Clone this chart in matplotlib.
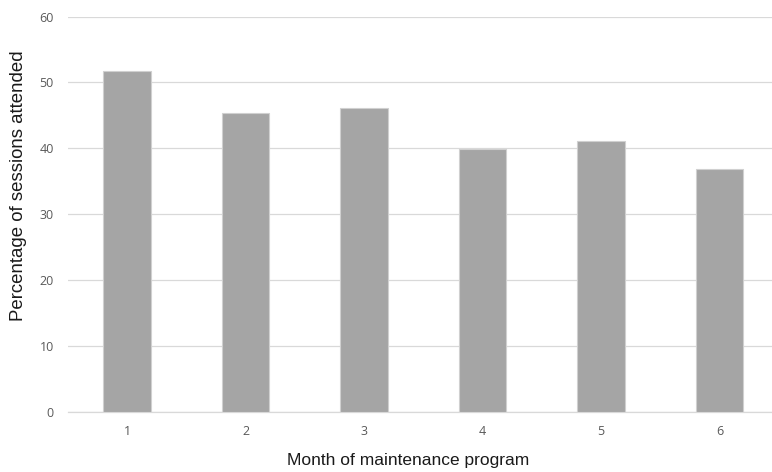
import matplotlib
matplotlib.use("Agg")
import matplotlib.pyplot as plt

months = ["1", "2", "3", "4", "5", "6"]
attendance = [51.8, 45.3, 46.1, 39.9, 41.1, 36.8]
y_ticks = [0, 10, 20, 30, 40, 50, 60]

fig = plt.figure(figsize=(7.72, 4.72), dpi=100)
ax = fig.add_axes([0.0878, 0.128, 0.921, 0.837])

x = range(len(months))
ax.bar(x, attendance, width=0.4, color="#A5A5A5", edgecolor="#D0D0D0",
       linewidth=0.8, zorder=3)

ax.set_xlim(-0.5, len(months) - 0.5)
ax.set_ylim(0, 60)
ax.set_yticks(y_ticks)
ax.set_xticks(list(x))
ax.set_xticklabels(months)

ax.yaxis.grid(True, color="#D9D9D9", linewidth=0.9, zorder=0)
for side in ["top", "right", "left"]:
    ax.spines[side].set_visible(False)
ax.spines["bottom"].set_color("#D9D9D9")
ax.spines["bottom"].set_linewidth(0.9)

ax.tick_params(axis="both", length=0, labelsize=9, labelcolor="#595959")
ax.tick_params(axis="y", pad=10)
ax.tick_params(axis="x", pad=10)
for lbl in ax.get_xticklabels() + ax.get_yticklabels():
    lbl.set_fontfamily("Open Sans")

ax.set_xlabel("Month of maintenance program", fontsize=12.5,
              fontfamily="Liberation Sans", color="#1a1a1a")
ax.set_ylabel("Percentage of sessions attended", fontsize=13.4,
              fontfamily="Liberation Sans", color="#1a1a1a")
ax.xaxis.set_label_coords(0.4786, -0.106)
ax.yaxis.set_label_coords(-0.057, 0.573)

fig.savefig("out.png", dpi=100)
